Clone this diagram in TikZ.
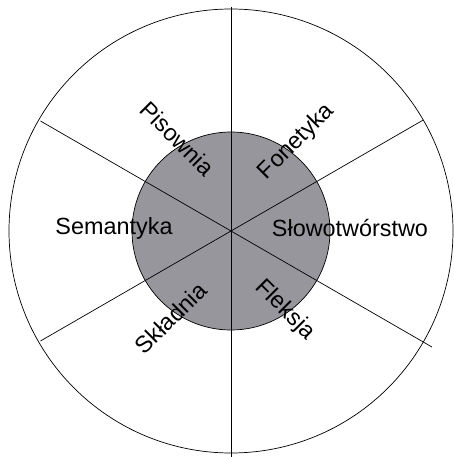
\documentclass[tikz,border=0pt]{standalone}
\usepackage{fontspec}
\setmainfont{Liberation Sans}
\definecolor{cinza}{RGB}{150,150,156}
\begin{document}
\begin{tikzpicture}[x=1pt,y=1pt,line width=0.7pt,
    rotulo/.style={font=\fontsize{23.4}{28}\selectfont,inner sep=0pt}]
	% Fixar a area do desenho
	\useasboundingbox (-231,-226) rectangle (222,231);
	
	% Definir o centro
	\coordinate (O) at (0,0);
	
	% Desenhar o circulo externo e o circulo interno
	\draw (O) circle (222);
	\draw[fill=cinza] (O) circle (99);
	
	% Desenhar as linhas de divisao
	\draw (O) -- (90:224);
	\draw (O) -- (270:226);
	\foreach \ang/\comp in {30/222,150/220,210/220,330/232}
		\draw (O) -- (\ang:\comp);
	
	% Adicionar labels
	\node[rotulo] (sem) at (-117,3) {Semantyka};
	\node[rotulo] (slo) at (119,3) {Słowotwórstwo};
	\node[rotulo,rotate=-45] (pis) at (-53.5,92.7) {Pisownia};
	\node[rotulo,rotate=45] (fon) at (65.7,89.3) {Fonetyka};
	\node[rotulo,rotate=45] (skl) at (-60.3,-87.3) {Składnia};
	\node[rotulo,rotate=-45] (fle) at (54,-79) {Fleksja};
	
\end{tikzpicture}
\end{document}
